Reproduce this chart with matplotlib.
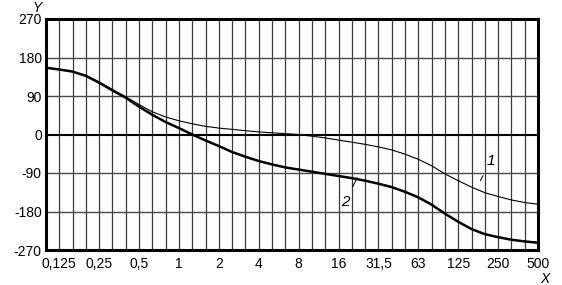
import numpy as np
from matplotlib import pyplot as plt

# third-octave band index (0 -> 0.1, 37 -> 500)
bands = list(range(38))
curve2 = [156, 152, 147, 137, 121, 103, 86, 65, 46, 29,
          15, 0, -14, -27, -41, -52, -62, -70, -77, -82,
          -87, -92, -97, -102, -108, -115, -123, -134, -147, -164,
          -185, -204, -221, -233, -240, -246, -250, -253]
curve1 = [156, 152, 147, 138, 123, 105, 88, 70, 53, 41,
          32, 25, 19, 15, 12, 9, 6, 4, 2, 0,
          -4, -8, -13, -18, -23, -29, -36, -46, -58, -73,
          -92, -108, -123, -136, -145, -153, -159, -163]

xtick_vals = [0.125, 0.25, 0.5, 1, 2, 4, 8, 16, 31.5, 63, 125, 250, 500]
xtick_labels = ['0,125', '0,25', '0,5', '1', '2', '4', '8', '16', '31,5',
                '63', '125', '250', '500']
yticks = [-270, -180, -90, 0, 90, 180, 270]

plt.rcParams['font.family'] = ['Liberation Sans', 'DejaVu Sans']

freqs = [0.1 * 10 ** (k / 10) for k in bands]

fig = plt.figure(figsize=(5.62, 2.85), dpi=100)
ax = fig.add_axes([46 / 562, 1 - 250 / 285, 492 / 562, 231 / 285])
ax.set_xscale('log')
ax.set_xlim(0.1, 10 ** 2.7 * 0.1 * 10 ** 0.001)
ax.set_ylim(-270, 270)

# grid
for f in freqs:
    ax.axvline(f, color='#3a3a3a', lw=0.9, zorder=1)
for y in [-180, -90, 90, 180]:
    ax.axhline(y, color='#4a4a4a', lw=1.0, zorder=1)
ax.axhline(0, color='black', lw=1.5, zorder=1)

ax.plot(freqs, curve1, color='black', lw=0.8, zorder=3)
ax.plot(freqs, curve2, color='black', lw=1.8, zorder=3)

# tick positions on the third-octave grid
tick_pos = [0.1 * 10 ** (k / 10) for k in range(1, 38, 3)]
ax.set_xticks(tick_pos)
ax.set_xticklabels(xtick_labels)
ax.xaxis.set_minor_locator(plt.NullLocator())
ax.set_yticks(yticks)
ax.set_yticklabels([str(v) for v in yticks])
ax.tick_params(axis='both', length=0, labelsize=10, pad=3)
ax.tick_params(axis='x', pad=5)

for s in ax.spines.values():
    s.set_linewidth(2.2)

fig.text(37 / 562, 1 - 8 / 285, 'Y', fontsize=10, style='italic',
         ha='center', va='center')
fig.text(545 / 562, 1 - 279 / 285, 'X', fontsize=10, style='italic',
         ha='center', va='center')

# curve labels with leader lines
ax.annotate('1', xy=(0.1 * 2 ** ((480 - 46) / 40), -108),
            xytext=(0.1 * 2 ** ((491 - 46) / 40), -62),
            fontsize=11, style='italic', ha='center', va='center',
            arrowprops=dict(arrowstyle='-', lw=0.7, color='black',
                            shrinkA=4, shrinkB=0))
ax.annotate('2', xy=(0.1 * 2 ** ((357 - 46) / 40), -101),
            xytext=(0.1 * 2 ** ((345 - 46) / 40), -157),
            fontsize=11, style='italic', ha='center', va='center',
            arrowprops=dict(arrowstyle='-', lw=0.7, color='black',
                            shrinkA=4, shrinkB=0))

fig.savefig('out.png', dpi=100, facecolor='white')
